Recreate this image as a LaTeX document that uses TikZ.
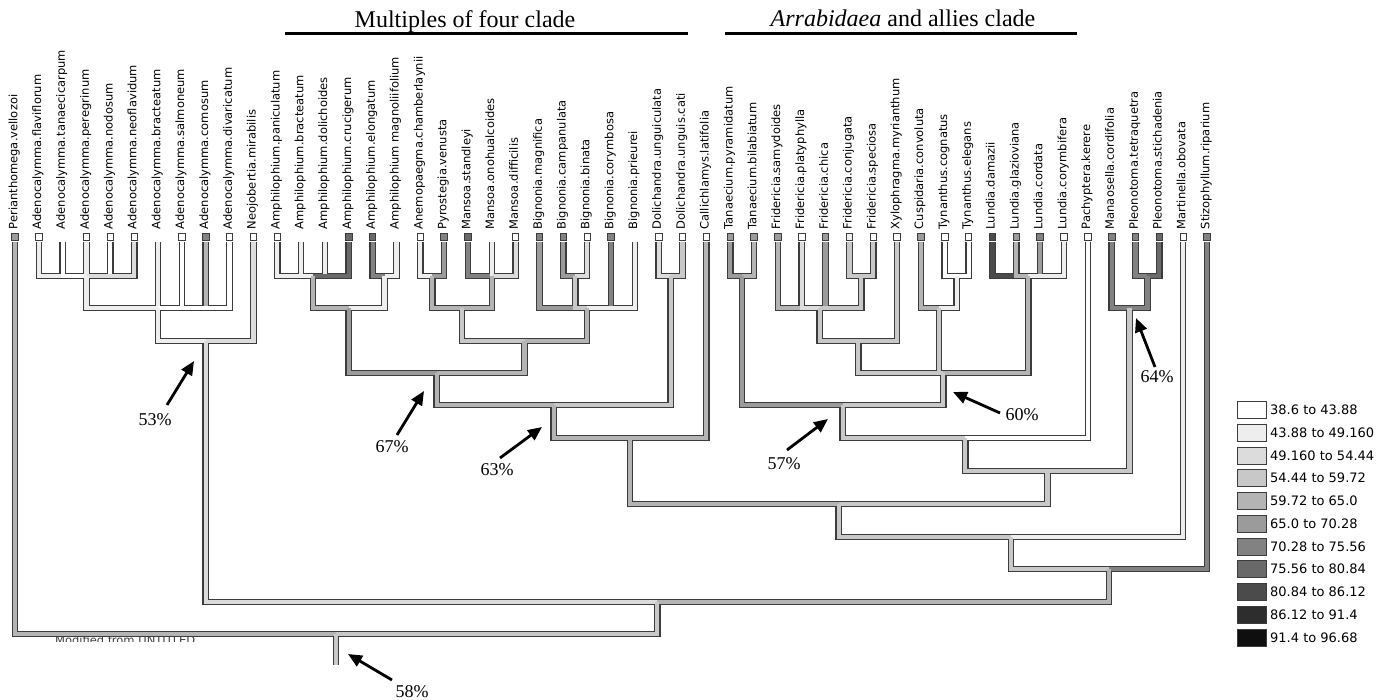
\documentclass[tikz,border=0pt]{standalone}
\usepackage{fontspec}
\setmainfont{Liberation Serif}
\newfontfamily\labfont{DejaVu Sans}
\usetikzlibrary{arrows.meta}
\definecolor{s1}{HTML}{FFFFFF}
\definecolor{s2}{HTML}{EEEEEE}
\definecolor{s3}{HTML}{DCDCDC}
\definecolor{s4}{HTML}{C8C8C8}
\definecolor{s5}{HTML}{B4B4B4}
\definecolor{s6}{HTML}{9B9B9B}
\definecolor{s7}{HTML}{828282}
\definecolor{s8}{HTML}{696969}
\definecolor{s9}{HTML}{4B4B4B}
\definecolor{s10}{HTML}{2D2D2D}
\definecolor{s11}{HTML}{0F0F0F}
\definecolor{edge}{HTML}{3C3C3C}
\tikzset{
  k0/.style={draw=none,fill=none},
  k1/.style={fill=s1}, k2/.style={fill=s2}, k6/.style={fill=s6},
  k7/.style={fill=s7}, k8/.style={fill=s8}, k9/.style={fill=s9},
  bord/.style={line width=6.6pt, draw=edge, line join=miter, line cap=butt},
  inn/.style={line width=4.2pt, line join=miter, line cap=butt},
  tipbox/.style={draw=edge, line width=0.8pt, minimum size=6.5pt, inner sep=0pt},
  tiplab/.style={rotate=90, anchor=mid west, inner sep=0pt, font=\labfont\fontsize{11.5}{12}\selectfont},
  legbox/.style={draw=edge, line width=0.9pt, minimum width=29pt, minimum height=17pt, inner sep=0pt},
  legtext/.style={anchor=west, inner sep=0pt, font=\labfont\fontsize{13}{14}\selectfont},
  pct/.style={inner sep=0pt, font=\fontsize{18}{20}\selectfont},
  arr/.style={line width=2.8pt, -{Triangle[length=14pt,width=12pt]}},
  cladetitle/.style={anchor=base, inner sep=0pt, font=\fontsize{24}{26}\selectfont},
  cladebar/.style={line width=2.4pt}
}
\def\tiplist{Perianthomega.vellozoi/k6/s5/Root,
Adenocalymma.flaviflorum/k1/s2/A1,
Adenocalymma.tanaecicarpum/k0/s1/A1,
Adenocalymma.peregrinum/k1/s2/A1,
Adenocalymma.nodosum/k1/s1/A1,
Adenocalymma.neoflavidum/k1/s3/A1,
Adenocalymma.bracteatum/k0/s2/A2,
Adenocalymma.salmoneum/k1/s1/A2,
Adenocalymma.comosum/k7/s5/A2,
Adenocalymma.divaricatum/k1/s1/A2,
Neojobertia.mirabilis/k1/s3/A3,
Amphilophium.paniculatum/k1/s2/a1,
Amphilophium.bracteatum/k0/s2/a1,
Amphilophium.dolichoides/k0/s2/a1,
Amphilophium.crucigerum/k8/s8/a1,
Amphilophium.elongatum/k8/s7/a2,
Amphilophium magnoliifolium/k0/s2/a2,
Anemopaegma.chamberlaynii/k1/s2/b1,
Pyrostegia.venusta/k7/s6/b1,
Mansoa.standleyi/k8/s7/b2,
Mansoa.onohualcoides/k0/s2/b2,
Mansoa.difficilis/k1/s3/b2,
Bignonia.magnifica/k7/s6/c2,
Bignonia.campanulata/k7/s6/c1,
Bignonia.binata/k1/s3/c1,
Bignonia.corymbosa/k7/s7/c2,
Bignonia.prieurei/k0/s2/c2,
Dolichandra.unguiculata/k1/s3/Dol,
Dolichandra.unguis.cati/k1/s4/Dol,
Callichlamys.latifolia/k1/s5/d3,
Tanaecium.pyramidatum/k6/s6/Tan,
Tanaecium.bilabiatum/k6/s5/Tan,
Fridericia.samydoides/k6/s5/F2,
Fridericia.platyphylla/k1/s3/F2,
Fridericia.chica/k6/s6/F2,
Fridericia.conjugata/k2/s4/F1,
Fridericia.speciosa/k1/s4/F1,
Xylophragma.myrianthum/k1/s4/F3,
Cuspidaria.convoluta/k6/s5/Cusp,
Tynanthus.cognatus/k1/s1/Tyn,
Tynanthus.elegans/k1/s1/Tyn,
Lundia.damazii/k9/s9/Lun,
Lundia.glazioviana/k6/s5/Lun,
Lundia.cordata/k7/s6/Lun,
Lundia.corymbifera/k1/s2/Lun,
Pachyptera.kerere/k1/s1/W,
Manaosella.cordifolia/k7/s7/Pl2,
Pleonotoma.tetraquetra/k7/s7/Pl1,
Pleonotoma.stichadenia/k8/s8/Pl1,
Martinella.obovata/k1/s2/T2,
Stizophyllum.riparium/k7/s7/S}
\def\intlist{A1/86.52/276/A2/s2,
A2/158.04/308/A3/s2,
A3/205.72/341/Big/s3,
a1/313/276/a3/s5,
a2/384.52/276/a3/s2,
a3/348.76/308/d1/s6,
b1/432.2/276/b3/s5,
b2/491.8/276/b3/s5,
b3/462/308/b4/s4,
c1/575.24/276/c2/s4,
c2/587.16/308/b4/s5,
b4/524.58/341/d1/s5,
d1/436.67/373/d2/s5,
Dol/670.6/276/d2/s4,
d2/553.64/405/d3/s5,
d3/630/438/U/s5,
Tan/742.12/276/Y/s6,
F1/861.32/276/F2/s4,
F2/819.6/308/F3/s4,
F3/858.34/341/X/s4,
Tyn/956.68/276/Cusp/s2,
Cusp/938.8/308/X/s4,
Lun/1028.2/276/X/s5,
X/943.27/373/Y/s4,
Y/842.7/405/W/s4,
W/965.25/438/V/s4,
Pl1/1147.4/276/Pl2/s7,
Pl2/1129.52/308/V/s4,
V/1047.4/471/U/s4,
U/838.7/504/T2/s4,
T2/1010.93/537/S/s4,
S/1108.97/569/Big/s5,
Big/657.35/602/Root/s4}
\begin{document}
\begin{tikzpicture}[x=1pt,y=-1pt]
\useasboundingbox (0,0) rectangle (1390,700);
% clipped credit line
\begin{scope}
\clip (50,628) rectangle (210,641.5);
\node[anchor=north west, inner sep=0pt, text=black!75, font=\labfont\fontsize{11.5}{12}\selectfont] (credit) at (55,636) {Modified from UNTITLED};
\end{scope}
% coordinates
\coordinate (Root) at (336.17,634);
\coordinate (rootend) at (336.17,665);
\foreach \nm/\bxc/\brc/\prt [count=\i] in \tiplist {
  \coordinate (t\i) at ({15+(\i-1)*23.84},242);
  \node[tipbox,\bxc] (box\i) at ({15+(\i-1)*23.84},237) {};
  \node[tiplab] (lab\i) at ({15+(\i-1)*23.84},229.5) {\nm};
}
\foreach \nm/\xx/\yy/\prt/\brc in \intlist {
  \coordinate (\nm) at (\xx,\yy);
}
% borders
\foreach \nm/\bxc/\brc/\prt [count=\i] in \tiplist { \draw[bord] (t\i) |- (\prt); }
\foreach \nm/\xx/\yy/\prt/\brc in \intlist { \draw[bord] (\nm) |- (\prt); }
\draw[bord] (Root) -- (rootend);
% interiors
\foreach \nm/\bxc/\brc/\prt [count=\i] in \tiplist { \draw[inn,draw=\brc] (t\i) |- (\prt); }
\foreach \nm/\xx/\yy/\prt/\brc in \intlist { \draw[inn,draw=\brc] (\nm) |- (\prt); }
\draw[inn,draw=s4] (Root) -- (rootend);
% clade titles
\node[cladetitle] (mft) at (465,28) {Multiples of four clade};
\coordinate (mfl) at (285,33.5); \coordinate (mfr) at (688,33.5);
\draw[cladebar] (mfl) -- (mfr);
\node[cladetitle] (aat) at (903,27) {\textit{Arrabidaea} and allies clade};
\coordinate (aal) at (725,33.5); \coordinate (aar) at (1077,33.5);
\draw[cladebar] (aal) -- (aar);
% percentages and arrows
\node[pct] (p53) at (155,420) {53\%};
\coordinate (a53t) at (167,405); \coordinate (a53h) at (194,361);
\draw[arr] (a53t) -- (a53h);
\node[pct] (p67) at (392,447) {67\%};
\coordinate (a67t) at (397,435); \coordinate (a67h) at (424,391);
\draw[arr] (a67t) -- (a67h);
\node[pct] (p63) at (497,470) {63\%};
\coordinate (a63t) at (500,458); \coordinate (a63h) at (542,427);
\draw[arr] (a63t) -- (a63h);
\node[pct] (p57) at (784,464) {57\%};
\coordinate (a57t) at (787,450); \coordinate (a57h) at (828,419);
\draw[arr] (a57t) -- (a57h);
\node[pct] (p60) at (1022,415) {60\%};
\coordinate (a60t) at (1000,413); \coordinate (a60h) at (953,392);
\draw[arr] (a60t) -- (a60h);
\node[pct] (p64) at (1157,377) {64\%};
\coordinate (a64t) at (1155,367); \coordinate (a64h) at (1136,318);
\draw[arr] (a64t) -- (a64h);
\node[pct] (p58) at (412,692) {58\%};
\coordinate (a58t) at (392,680); \coordinate (a58h) at (348,654);
\draw[arr] (a58t) -- (a58h);
% legend
\foreach \txt [count=\i] in {38.6 to 43.88, 43.88 to 49.160, 49.160 to 54.44, 54.44 to 59.72, 59.72 to 65.0, 65.0 to 70.28, 70.28 to 75.56, 75.56 to 80.84, 80.84 to 86.12, 86.12 to 91.4, 91.4 to 96.68} {
  \node[legbox, fill=s\i] (lb\i) at (1251.5,{410+(\i-1)*22.75}) {};
  \node[legtext] (lt\i) at (1270,{410+(\i-1)*22.75}) {\txt};
}
\end{tikzpicture}
\end{document}
